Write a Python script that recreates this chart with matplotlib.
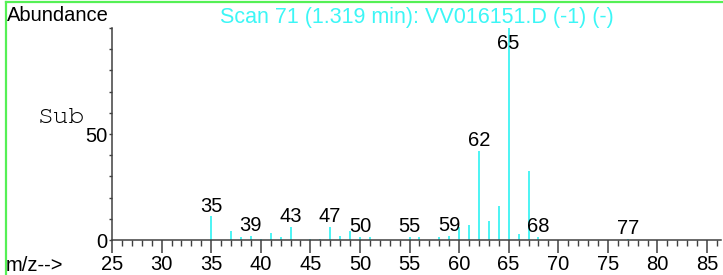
import matplotlib
matplotlib.use("Agg")
import matplotlib.pyplot as plt
from matplotlib.ticker import MultipleLocator, FixedLocator
from matplotlib.lines import Line2D
from matplotlib.font_manager import FontProperties

mz = [35, 37, 38, 39, 40, 41, 42, 43, 45, 46, 47, 48, 49, 50, 51,
      55, 56, 58, 59, 60, 61, 62, 63, 64, 65, 66, 67, 68, 77]
abundance = [11.1, 4.4, 1.3, 1.9, 0.5, 3.2, 1.3, 6.2, 0.3, 0.3, 6.2, 2.0, 4.4, 1.3, 1.4,
             1.4, 1.4, 1.4, 2.0, 6.3, 7.1, 41.9, 9.0, 15.9, 100.0, 2.9, 32.4, 1.3, 0.5]
labeled_mz = [35, 39, 43, 47, 50, 55, 59, 62, 65, 68, 77]
x_ticks = [25, 30, 35, 40, 45, 50, 55, 60, 65, 70, 75, 80, 85]
y_ticks = [0, 50]
title = "Scan 71 (1.319 min): VV016151.D (-1) (-)"

W, H = 723, 275
plt.rcParams['font.family'] = ['Liberation Sans', 'DejaVu Sans']
fig = plt.figure(figsize=(W / 100, H / 100), dpi=100)

left, right, top, bottom = 112, 721, 28, 240
ax = fig.add_axes([left / W, 1 - bottom / H, (right - left) / W, (bottom - top) / H])
ax.set_xlim(25, 25 + (right - left) / 9.917)
ax.set_ylim(0, 100)

line_col = '#2ef2f2'
ax.vlines(mz, 0, abundance, color=line_col, linewidth=1.2)

fs = 14.5
cap = 88.0
for m in labeled_mz:
    h = abundance[mz.index(m)]
    ax.annotate(str(m), xy=(m, min(h, cap)), xytext=(0, 3.5), textcoords='offset points',
                ha='center', va='baseline', fontsize=fs, color='black')

for s in ['top', 'right']:
    ax.spines[s].set_visible(False)
axis_col = '#404040'
ax.spines['left'].set_color(axis_col)
ax.spines['bottom'].set_color(axis_col)
ax.spines['left'].set_linewidth(1.1)
ax.spines['bottom'].set_linewidth(1.1)

ax.xaxis.set_major_locator(FixedLocator(x_ticks))
ax.xaxis.set_minor_locator(MultipleLocator(1))
ax.set_xticklabels([str(t) for t in x_ticks])
ax.tick_params(axis='x', which='major', direction='out', length=9, width=1.1, color=axis_col,
               labelsize=fs, pad=2)
ax.tick_params(axis='x', which='minor', direction='out', length=4.5, width=1.0, color=axis_col)

ax.yaxis.set_major_locator(FixedLocator(y_ticks))
ax.yaxis.set_minor_locator(MultipleLocator(10))
ax.set_yticklabels([str(t) for t in y_ticks])
ax.tick_params(axis='y', which='major', direction='out', length=2, width=1.0, color=axis_col,
               labelsize=fs, pad=1)
ax.tick_params(axis='y', which='minor', direction='out', length=2, width=1.0, color=axis_col)

ax.set_title(title, color='#3cf6f6', fontsize=15.5, pad=2, loc='center')

fig.text(7 / W, 1 - 21 / H, "Abundance", fontsize=fs, ha='left', va='baseline', color='black')
fig.text(6 / W, 1 - 271 / H, "m/z-->", fontsize=fs, ha='left', va='baseline', color='black')
mono = FontProperties(family='FreeMono', size=19)
fig.text(38 / W, 1 - 123 / H, "Sub", fontproperties=mono, ha='left', va='baseline', color='black')

green = '#55f055'
fig.add_artist(Line2D([6 / W, 1.0], [1 - 1.5 / H, 1 - 1.5 / H], transform=fig.transFigure,
                      color=green, linewidth=1.6))
fig.add_artist(Line2D([6 / W, 6 / W], [0, 1 - 1.5 / H], transform=fig.transFigure,
                      color=green, linewidth=1.6))

fig.savefig("out.png", dpi=100)
